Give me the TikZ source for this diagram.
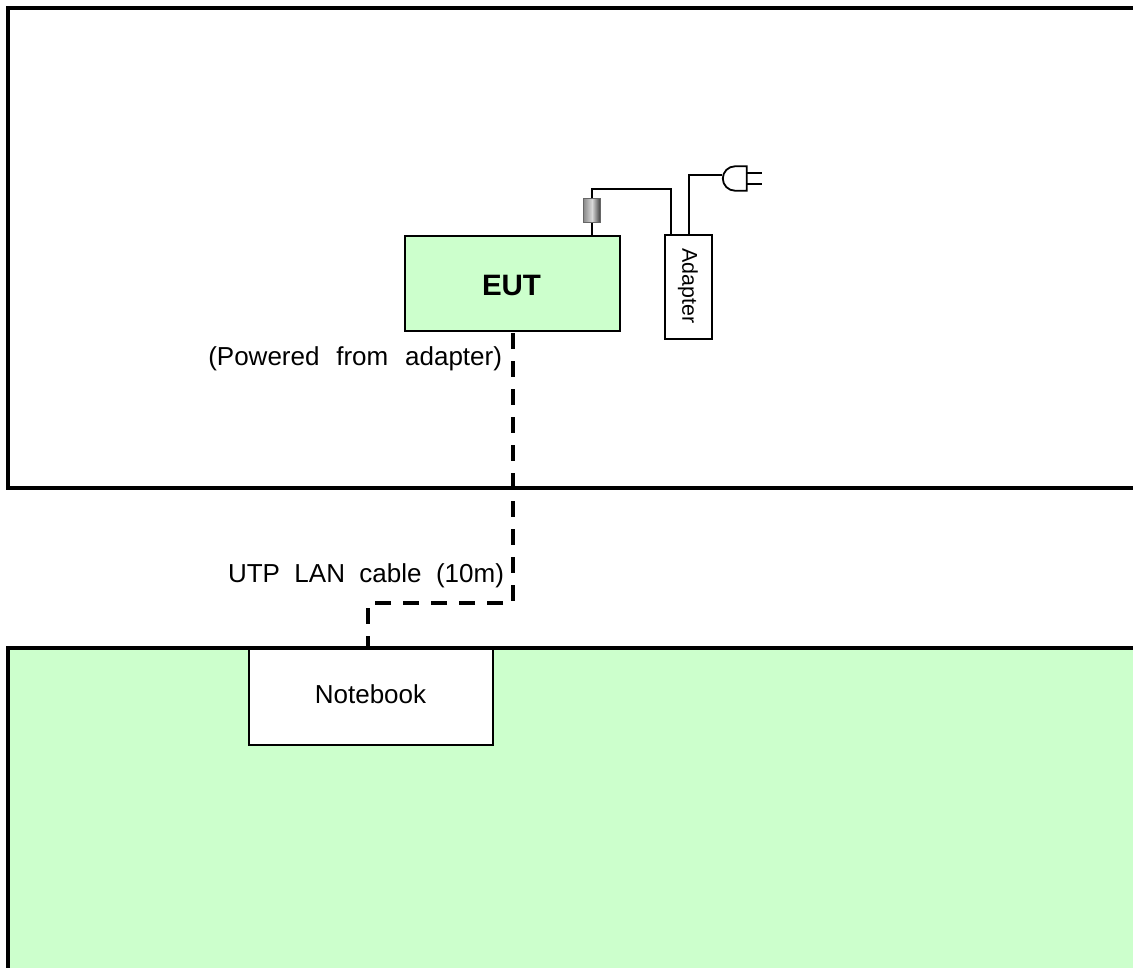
\documentclass[tikz,border=0pt]{standalone}
\usepackage{fontspec}
\setmainfont[WordSpace=2]{Liberation Sans}
\definecolor{palegreen}{HTML}{CCFFCC}
\tikzset{
  frameline/.style={line width=4pt,black},
  boxnode/.style={draw=black,line width=2pt,inner sep=0pt,outer sep=0pt,anchor=north west},
  wire/.style={draw=black,line width=2pt},
  lancable/.style={draw=black,line width=4pt,dash pattern=on 16pt off 12pt,dash phase=26pt},
  labeltext/.style={inner sep=0pt,outer sep=0pt,font=\fontsize{26}{30}\selectfont},
  ferritebody/.style={inner sep=0pt,outer sep=0pt,minimum width=16.5pt,minimum height=24.5pt,draw=black!60,line width=0.8pt,
    left color=black!45,right color=black!75,middle color=black!15}
}
\begin{document}
\begin{tikzpicture}[x=1pt,y=-1pt]
\useasboundingbox (0,0) rectangle (1133,967);
\clip (0,0) rectangle (1133,967);
% lower (table) area
\fill[palegreen] (8,648) rectangle (1140,975);
\draw[frameline] (1140,648) -- (8,648) -- (8,975);
% upper frame
\draw[frameline] (1140,8) -- (8,8) -- (8,487.5) -- (1140,487.5);
% boxes
\node[boxnode,fill=palegreen,minimum width=215pt,minimum height=95.5pt] (eut) at (405,235.5) {};
\node[labeltext,font=\fontsize{29.5}{32}\selectfont\bfseries] (euttext) at (511.5,285.5) {EUT};
\node[boxnode,fill=white,minimum width=47pt,minimum height=104pt] (adapter) at (665,235) {};
\node[labeltext,font=\fontsize{21.4}{24}\selectfont,rotate=-90] (adaptertext) at (688,286) {Adapter};
\node[boxnode,fill=white,minimum width=244pt,minimum height=96pt] (notebook) at (248.5,649) {};
\node[labeltext] (notebooktext) at (370.5,694) {Notebook};
% ferrite and wires
\node[ferritebody] (ferrite) at (592,210.5) {};
\coordinate (adapterin) at (670.5,235);
\coordinate (adapterout) at (689,235);
\coordinate (plugin) at (722,175);
\draw[wire] (eut.north -| ferrite) -- (ferrite.south);
\draw[wire] (ferrite.north) |- (592,189) -- (670.5,189) -- (adapterin);
\draw[wire] (adapterout) |- (plugin);
% plug
\draw[wire,line width=1.8pt] (735,166.3) arc[start angle=270,end angle=90,radius=12.2] -- (746.7,190.7) -- (746.7,166.3) -- cycle;
\coordinate (prongA) at (746.7,173.3);
\coordinate (prongB) at (746.7,184);
\coordinate (prongAend) at (761.5,173.3);
\coordinate (prongBend) at (761.5,184);
\draw[wire] (prongA) -- (prongAend);
\draw[wire] (prongB) -- (prongBend);
% LAN cable
\draw[lancable] ([xshift=0.5pt]eut.south) -- (513,603) -- (368.3,603) -- (notebook.north -| 368.3,0);
% labels
\node[labeltext,anchor=base east] (poweredtext) at (502,365.7) {\spaceskip=16.8pt (Powered from adapter)};
\node[labeltext,anchor=base east] (utptext) at (504,582.7) {UTP LAN cable (10m)};
\end{tikzpicture}
\end{document}
